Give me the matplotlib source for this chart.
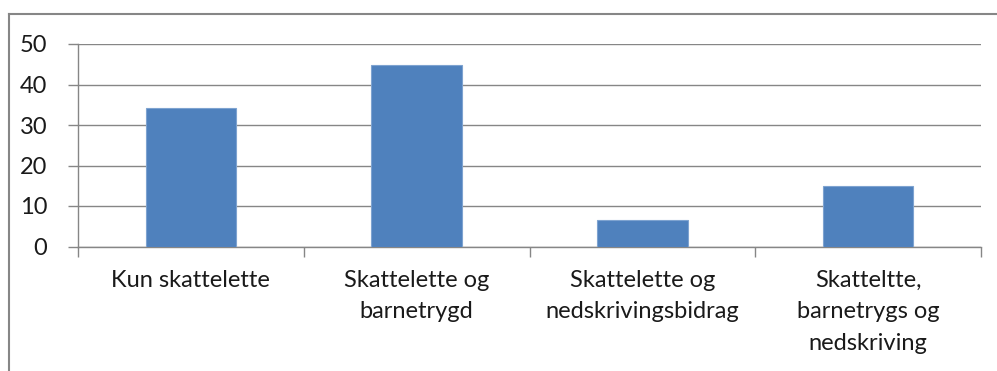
import matplotlib.pyplot as plt
import numpy as np
from matplotlib.lines import Line2D

# data
categories = ['Kun skattelette', 'Skattelette og\nbarnetrygd',
              'Skattelette og\nnedskrivingsbidrag',
              'Skatteltte,\nbarnetrygs og\nnedskriving']
values = [34.3, 44.7, 6.5, 15.0]
yticks = [0, 10, 20, 30, 40, 50]

plt.rcParams['font.family'] = ['Lato', 'DejaVu Sans']
grey = '#868686'

fig = plt.figure(figsize=(9.97, 3.71), dpi=100)
ax = fig.add_axes([78/997, 124.5/371, 903/997, 202.5/371])

x = np.arange(len(categories))
ax.bar(x, values, width=0.4, color='#4f81bd', edgecolor='#7ea3d0', linewidth=0.8, zorder=3)

ax.set_xlim(-0.5, len(categories) - 0.5)
ax.set_ylim(0, 50)
ax.set_yticks(yticks)
ax.yaxis.grid(True, color=grey, linewidth=1.0, zorder=0)

# tick marks at category boundaries, labels centred under bars
ax.set_xticks(np.arange(-0.5, len(categories)), minor=False)
ax.set_xticklabels([])
ax.set_xticks(x, minor=True)
ax.set_xticklabels(categories, minor=True, fontsize=17, color='#1a1a1a', linespacing=1.6)
ax.tick_params(axis='x', which='minor', length=0, pad=17)
ax.tick_params(axis='x', which='major', length=7, color=grey, width=1)
ax.tick_params(axis='y', length=7, color=grey, width=1, labelsize=17, labelcolor='#1a1a1a', pad=15)

for s in ['top', 'right']:
    ax.spines[s].set_visible(False)
for s in ['left', 'bottom']:
    ax.spines[s].set_color(grey)
    ax.spines[s].set_linewidth(1.0)

# outer chart frame (only top and left visible in the crop)
fig.add_artist(Line2D([9/997, 1], [1 - 14/371, 1 - 14/371], transform=fig.transFigure, color=grey, linewidth=1.5))
fig.add_artist(Line2D([9/997, 9/997], [0, 1 - 14/371], transform=fig.transFigure, color=grey, linewidth=1.5))

fig.savefig('out.png', dpi=100)
